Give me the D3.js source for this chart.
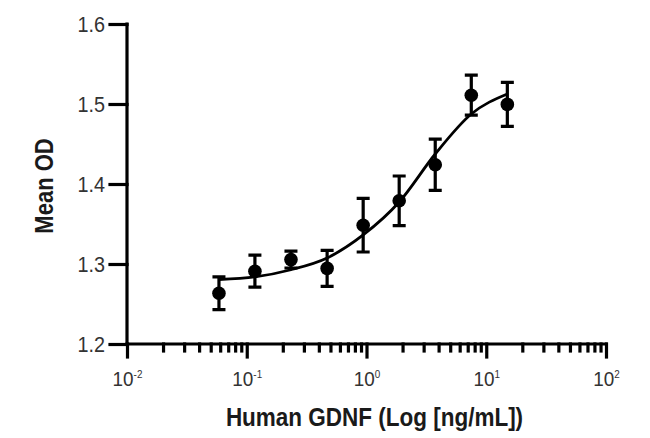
<!DOCTYPE html>
<html>
<head>
<meta charset="utf-8">
<script src="https://cdn.jsdelivr.net/npm/d3@7"></script>
<style>
  body { margin: 0; background: #fff; }
  text { font-family: 'Liberation Sans Narrow', 'Arial Narrow', 'Liberation Sans', Arial, sans-serif; }
</style>
</head>
<body>
<svg id="chart" width="650" height="438"></svg>
<script>
// GDNF concentrations (ng/mL), two-fold dilutions
var doses = [0.0586, 0.117, 0.234, 0.469, 0.938, 1.875, 3.75, 7.5, 15]
var meanOD = [1.2635, 1.291, 1.3055, 1.2945, 1.3485, 1.379, 1.424, 1.511, 1.4995]
var errOD = [0.0205, 0.020, 0.0105, 0.0225, 0.0335, 0.031, 0.032, 0.025, 0.0275]
// fitted curve at each dose
var fitOD = [1.2806, 1.2838, 1.2928, 1.3075, 1.3363, 1.3775, 1.4375, 1.4875, 1.5125]

var yTicks = [1.2, 1.3, 1.4, 1.5, 1.6]
var xDecades = [-2, -1, 0, 1, 2]

var margin = { top: 24, right: 44, bottom: 94, left: 127 }
var width = 650 - margin.left - margin.right
var height = 438 - margin.top - margin.bottom

// horizontal squeeze to fake the condensed face of the original
var narrow = 0.9

/**
 * Build the dose response chart
 *
 * @param {*} svg the d3 selection of the svg
 */
function build (svg) {
  var g = svg.append('g')
    .attr('transform', 'translate(' + margin.left + ',' + margin.top + ')')

  var xScale = d3.scaleLog().domain([0.01, 100]).range([0, width])
  var yScale = d3.scaleLinear().domain([1.2, 1.6]).range([height, 0])

  drawAxes(g, xScale, yScale)
  drawCurve(g, xScale, yScale)
  drawPoints(g, xScale, yScale)
  drawLabels(g)
}

/**
 * Draw both axes with their ticks and labels
 *
 * @param {*} g the graph
 * @param {*} xScale the log scale for the doses
 * @param {*} yScale the linear scale for the OD
 */
function drawAxes (g, xScale, yScale) {
  var yAxis = d3.axisLeft(yScale)
    .tickValues(yTicks)
    .tickSize(17)
    .tickFormat('')

  var ya = g.append('g').attr('class', 'y axis').call(yAxis)
  ya.select('.domain').attr('d', 'M0,' + yScale(1.6) + 'V' + yScale(1.2))

  ya.selectAll('.tick').append('text')
    .attr('transform', 'translate(-22,0) scale(' + narrow + ',1)')
    .attr('dy', '0.36em')
    .attr('text-anchor', 'end')
    .attr('fill', '#333')
    .attr('font-size', 22)
    .text(function (d) { return d3.format('.1f')(d) })

  // minor ticks between decades
  var minors = []
  for (var p = -2; p < 2; p++) {
    for (var m = 2; m < 10; m++) minors.push(m * Math.pow(10, p))
  }

  var xMinor = d3.axisBottom(xScale)
    .tickValues(minors)
    .tickSize(7)
    .tickFormat('')
  var xm = g.append('g').attr('class', 'x axis minor')
    .attr('transform', 'translate(0,' + height + ')')
    .call(xMinor)
  xm.select('.domain').remove()

  var xAxis = d3.axisBottom(xScale)
    .tickValues(xDecades.map(function (e) { return Math.pow(10, e) }))
    .tickSize(13)
    .tickFormat('')
  var xa = g.append('g').attr('class', 'x axis')
    .attr('transform', 'translate(0,' + height + ')')
    .call(xAxis)
  xa.select('.domain').attr('d', 'M0,0H' + width)

  xa.selectAll('.tick').each(function (d) {
    var t = d3.select(this).append('text')
      .attr('transform', 'translate(0,42) scale(' + narrow + ',1)')
      .attr('text-anchor', 'middle')
      .attr('fill', '#333')
      .attr('font-size', 21)
    t.append('tspan').text('10')
    t.append('tspan')
      .attr('font-size', 11)
      .attr('dy', -8)
      .text(String(Math.round(Math.log10(d))))
  })

  g.selectAll('.axis .domain, .axis .tick line')
    .attr('stroke', '#000')
    .attr('stroke-width', 3.2)
    .attr('stroke-linecap', 'square')
}

/**
 * Draw the fitted curve
 *
 * @param {*} g the graph
 * @param {*} xScale the x scale
 * @param {*} yScale the y scale
 */
function drawCurve (g, xScale, yScale) {
  var line = d3.line()
    .x(function (d, i) { return xScale(doses[i]) })
    .y(function (d) { return yScale(d) })
    .curve(d3.curveMonotoneX)

  g.append('path')
    .datum(fitOD)
    .attr('d', line)
    .attr('fill', 'none')
    .attr('stroke', '#000')
    .attr('stroke-width', 2.8)
}

/**
 * Draw the mean points with their error bars
 *
 * @param {*} g the graph
 * @param {*} xScale the x scale
 * @param {*} yScale the y scale
 */
function drawPoints (g, xScale, yScale) {
  var data = doses.map(function (d, i) {
    return { dose: d, od: meanOD[i], err: errOD[i] }
  })

  var pts = g.selectAll('.point').data(data).enter().append('g')
    .attr('class', 'point')
    .attr('transform', function (d) { return 'translate(' + xScale(d.dose) + ',0)' })

  pts.append('path')
    .attr('d', function (d) {
      var top = yScale(d.od + d.err)
      var bot = yScale(d.od - d.err)
      return 'M0,' + top + 'V' + bot + 'M-6.5,' + top + 'H6.5M-6.5,' + bot + 'H6.5'
    })
    .attr('fill', 'none')
    .attr('stroke', '#000')
    .attr('stroke-width', 3.2)

  pts.append('circle')
    .attr('cy', function (d) { return yScale(d.od) })
    .attr('r', 6.8)
    .attr('fill', '#000')
}

/**
 * Add the axis titles
 *
 * @param {*} g the graph
 */
function drawLabels (g) {
  g.append('text')
    .attr('transform', 'translate(' + (width / 2 + 8) + ',' + (height + 82) + ') scale(' + narrow + ',1)')
    .attr('text-anchor', 'middle')
    .attr('font-weight', 'bold')
    .attr('font-size', 25)
    .attr('fill', '#1a1a1a')
    .text('Human GDNF (Log [ng/mL])')

  g.append('text')
    .attr('transform', 'translate(' + (-74) + ',' + (height / 2 + 2) + ') rotate(-90) scale(0.88,1)')
    .attr('text-anchor', 'middle')
    .attr('font-weight', 'bold')
    .attr('font-size', 25)
    .attr('fill', '#1a1a1a')
    .text('Mean OD')
}

build(d3.select('#chart'))
</script>
</body>
</html>
